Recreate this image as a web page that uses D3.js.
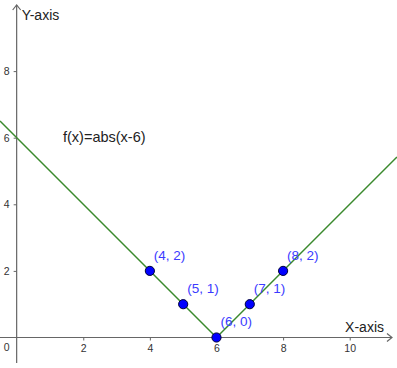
<!DOCTYPE html>
<html><head><meta charset="utf-8">
<script src="https://cdn.jsdelivr.net/npm/d3@7"></script>
<style>body{margin:0;background:#fff}svg{display:block}text{font-family:"Liberation Sans",Arial,sans-serif}</style>
</head><body>
<script>
const xTicks = [2, 4, 6, 8, 10];
const yTicks = [2, 4, 6, 8];
const pointX = [4, 5, 6, 7, 8];
const pointY = [2, 1, 0, 1, 2];
const pointLabels = ["(4, 2)", "(5, 1)", "(6, 0)", "(7, 1)", "(8, 2)"];
const funcLabel = "f(x)=abs(x-6)";
const xLabel = "X-axis", yLabel = "Y-axis";
const f = x => Math.abs(x - 6);

const W = 397, H = 368;
const svg = d3.select("body").append("svg").attr("width", W).attr("height", H);
const x = d3.scaleLinear().domain([-0.5, 11.42]).range([0, W]);
const y = d3.scaleLinear().domain([-0.916, 10.135]).range([H, 0]);
const axisColor = "#666";

// axes lines
svg.append("line").attr("x1", 0).attr("x2", 392).attr("y1", y(0)).attr("y2", y(0))
  .attr("stroke", axisColor).attr("stroke-width", 1.2);
svg.append("path").attr("d", `M${392-5},${y(0)-4}L392,${y(0)}L${392-5},${y(0)+4}`)
  .attr("fill", "none").attr("stroke", axisColor).attr("stroke-width", 1.2);
svg.append("line").attr("x1", x(0)).attr("x2", x(0)).attr("y1", 5).attr("y2", 363)
  .attr("stroke", axisColor).attr("stroke-width", 1.2);
svg.append("path").attr("d", `M${x(0)-4},${10}L${x(0)},5L${x(0)+4},10`)
  .attr("fill", "none").attr("stroke", axisColor).attr("stroke-width", 1.2);

// x axis ticks
const gx = svg.append("g").attr("transform", `translate(0,${y(0)})`)
  .call(d3.axisBottom(x).tickValues(xTicks).tickSize(3).tickPadding(4).tickFormat(d3.format("d")));
gx.select(".domain").remove();
gx.selectAll("line").attr("stroke", axisColor);
gx.selectAll("text").attr("fill", "#333").attr("font-size", 10.5).attr("font-family", "Liberation Sans, Arial, sans-serif");

// y axis ticks
const gy = svg.append("g").attr("transform", `translate(${x(0)},0)`)
  .call(d3.axisLeft(y).tickValues(yTicks).tickSize(3).tickPadding(4).tickFormat(d3.format("d")));
gy.select(".domain").remove();
gy.selectAll("line").attr("stroke", axisColor);
gy.selectAll("text").attr("fill", "#333").attr("font-size", 10.5).attr("font-family", "Liberation Sans, Arial, sans-serif");

// origin label
svg.append("text").attr("x", x(0) - 10).attr("y", y(0) + 14).attr("text-anchor", "middle")
  .attr("font-size", 10.5).attr("fill", "#333").text("0");

// axis labels
svg.append("text").attr("x", x(0) + 5).attr("y", 20).attr("font-size", 14).attr("fill", "#222").text(yLabel);
svg.append("text").attr("x", 384).attr("y", y(0) - 5).attr("text-anchor", "end")
  .attr("font-size", 14).attr("fill", "#222").text(xLabel);

// function line
const xs = [-0.5, 6, 11.42];
svg.append("path").datum(xs)
  .attr("d", d3.line().x(d => x(d)).y(d => y(f(d))))
  .attr("fill", "none").attr("stroke", "#3b8a2e").attr("stroke-width", 1.5);

svg.append("text").attr("x", 63).attr("y", 142).attr("font-size", 14.5).attr("fill", "#222").text(funcLabel);

// points
svg.selectAll("circle.pt").data(pointX).join("circle").attr("class", "pt")
  .attr("cx", d => x(d)).attr("cy", (d, i) => y(pointY[i])).attr("r", 4.6)
  .attr("fill", "#0000ff").attr("stroke", "#00003a").attr("stroke-width", 1);

svg.selectAll("text.pl").data(pointX).join("text").attr("class", "pl")
  .attr("x", d => x(d) + 4).attr("y", (d, i) => y(pointY[i]) - 11)
  .attr("font-size", 13.5).attr("fill", "#3b3bff").text((d, i) => pointLabels[i]);
</script>
</body></html>
